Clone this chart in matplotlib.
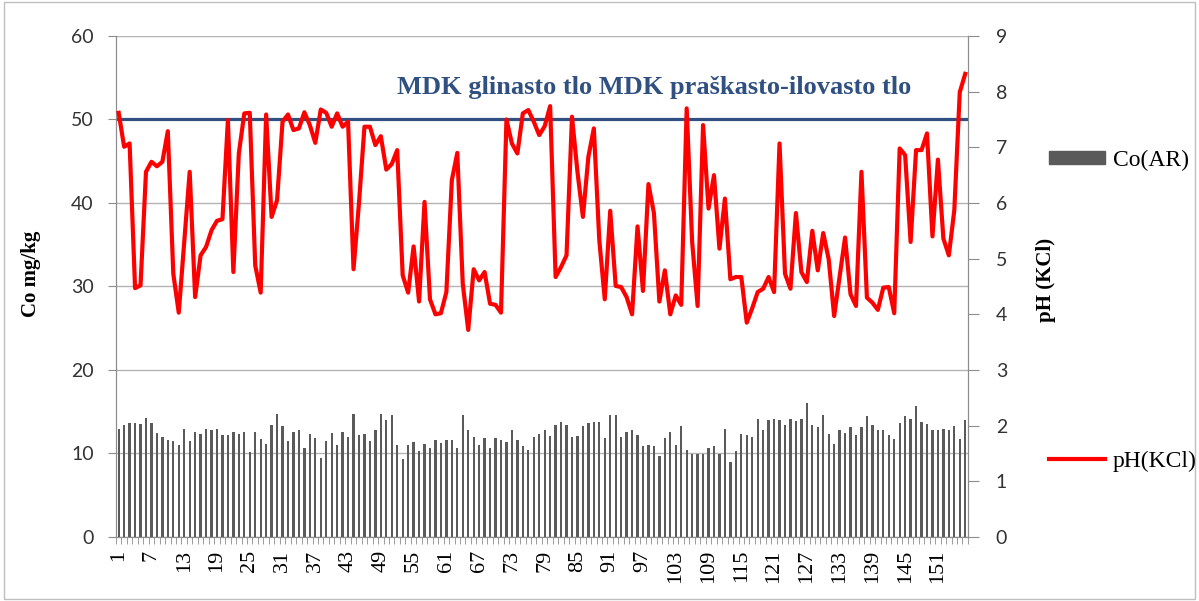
import matplotlib
matplotlib.use("Agg")
import matplotlib.pyplot as plt
from matplotlib.patches import Rectangle
from matplotlib.lines import Line2D

# Co (mg/kg) per sample, left axis
co = [12.98, 13.37, 13.65, 13.65, 13.49, 14.25, 13.65, 12.5, 11.98, 11.59,
      11.5, 10.99, 12.98, 11.5, 12.62, 12.38, 12.98, 12.78, 12.98, 12.26,
      12.26, 12.62, 12.38, 12.62, 10.12, 12.62, 11.75, 11.11, 13.41, 14.76,
      13.25, 11.5, 12.62, 12.78, 10.71, 12.38, 11.87, 9.44, 11.5, 12.5,
      10.99, 12.62, 11.98, 14.76, 12.26, 12.38, 11.5, 12.78, 14.76, 13.97,
      14.56, 10.99, 9.33, 10.99, 11.39, 10.28, 11.11, 10.6, 11.59, 11.27,
      11.59, 11.59, 10.6, 14.56, 12.86, 11.98, 10.99, 11.9, 10.6, 11.9,
      11.59, 11.35, 12.78, 11.59, 10.87, 10.36, 11.98, 12.38, 12.78, 12.14,
      13.41, 13.77, 13.41, 11.98, 12.14, 13.25, 13.65, 13.77, 13.77, 11.87,
      14.56, 14.56, 11.98, 12.62, 12.86, 12.26, 10.87, 10.99, 10.87, 9.68,
      11.87, 12.62, 10.99, 13.25, 10.36, 9.92, 9.92, 9.92, 10.71, 10.87,
      9.92, 12.98, 8.93, 10.24, 12.38, 12.26, 11.98, 14.17, 12.86, 14.05,
      14.17, 14.05, 13.37, 14.17, 13.89, 14.17, 16.03, 13.37, 13.17, 14.56,
      12.38, 11.11, 12.86, 12.5, 13.17, 12.26, 13.17, 14.44, 13.37, 12.86,
      12.78, 12.26, 11.75, 13.65, 14.44, 14.17, 15.71, 13.77, 13.53, 12.78,
      12.78, 12.98, 12.78, 13.25, 11.75, 14.05]

# pH (KCl) per sample, right axis
ph = [7.62, 7.01, 7.07, 4.47, 4.52, 6.56, 6.74, 6.66, 6.74, 7.29,
      4.73, 4.03, 5.30, 6.56, 4.31, 5.06, 5.21, 5.51, 5.68, 5.71,
      7.49, 4.76, 6.89, 7.61, 7.62, 4.88, 4.39, 7.59, 5.75, 6.05,
      7.46, 7.59, 7.31, 7.34, 7.63, 7.40, 7.08, 7.68, 7.62, 7.37,
      7.61, 7.37, 7.46, 4.81, 6.00, 7.37, 7.37, 7.04, 7.20, 6.60,
      6.70, 6.95, 4.70, 4.39, 5.22, 4.23, 6.02, 4.27, 4.00, 4.02,
      4.40, 6.41, 6.90, 4.55, 3.72, 4.81, 4.61, 4.76, 4.19, 4.17,
      4.03, 7.50, 7.07, 6.89, 7.61, 7.67, 7.46, 7.22, 7.38, 7.74,
      4.67, 4.85, 5.06, 7.55, 6.56, 5.75, 6.83, 7.34, 5.33, 4.27,
      5.86, 4.51, 4.49, 4.31, 4.00, 5.58, 4.42, 6.34, 5.82, 4.23,
      4.79, 4.00, 4.34, 4.17, 7.70, 5.30, 4.15, 7.40, 5.90, 6.50,
      5.18, 6.08, 4.63, 4.67, 4.67, 3.85, 4.11, 4.40, 4.46, 4.67,
      4.40, 7.07, 4.73, 4.46, 5.82, 4.76, 4.58, 5.50, 4.79, 5.46,
      4.99, 3.97, 4.67, 5.38, 4.36, 4.15, 6.56, 4.30, 4.21, 4.08,
      4.48, 4.49, 4.02, 6.98, 6.86, 5.30, 6.95, 6.95, 7.25, 5.40,
      6.78, 5.36, 5.06, 5.87, 7.99, 8.32]

mdk = 50
n = len(co)
uzorci = list(range(1, n + 1))
oznake = list(range(1, n + 1, 6))

serif = ["Liberation Serif", "DejaVu Serif"]
sans = ["Lato", "DejaVu Sans"]

fig = plt.figure(figsize=(11.99, 6.01), dpi=100)
fig.patches.append(Rectangle((0.003, 0.004), 0.994, 0.992, transform=fig.transFigure,
                             fill=False, edgecolor="#bfbfbf", linewidth=1))

ax = fig.add_axes([0.0967, 0.1065, 0.7106, 0.8336])
ax2 = ax.twinx()

ax.bar(uzorci, co, width=0.42, color="#5a5a5a", zorder=2)
ax.axhline(mdk, color="#2f5080", linewidth=2.3, zorder=3)
ax2.plot(uzorci, ph, color="#ff0000", linewidth=3, solid_joinstyle="round", zorder=4)

ax.set_xlim(0.5, n + 0.5)
ax.set_ylim(0, 60)
ax2.set_ylim(0, 9)
ax.set_yticks(range(0, 61, 10))
ax2.set_yticks(range(0, 10))

ax.yaxis.grid(True, color="#b3b3b3", linewidth=1)
ax.set_axisbelow(True)

for a in (ax, ax2):
    for s in a.spines.values():
        s.set_color("#8c8c8c")
    a.spines["top"].set_visible(False)

ax.set_xticks(oznake)
ax.set_xticklabels([str(v) for v in oznake], rotation=90, family=serif, fontsize=16)
ax.set_xticks([v + 0.5 for v in range(0, n + 1)], minor=True)
ax.tick_params(axis="x", which="major", length=0, pad=9)
ax.tick_params(axis="x", which="minor", length=5, color="#8c8c8c")
ax.tick_params(axis="y", length=6, color="#8c8c8c", pad=10)
ax2.tick_params(axis="y", length=8, color="#8c8c8c", pad=12)
for lbl in ax.get_yticklabels() + ax2.get_yticklabels():
    lbl.set_family(sans)
    lbl.set_fontsize(14)
    lbl.set_color("#333333")

ax.text(0.33, 0.898, "MDK glinasto tlo MDK praškasto-ilovasto tlo", transform=ax.transAxes,
        ha="left", va="center", family=serif, fontsize=19, fontweight="bold", color="#2f5080")

fig.text(0.026, 0.545, "Co mg/kg", rotation=90, ha="center", va="center",
         family=serif, fontsize=15, fontweight="bold")
fig.text(0.872, 0.535, "pH (KCl)", rotation=90, ha="center", va="center",
         family=serif, fontsize=15, fontweight="bold")

h1 = Rectangle((0, 0), 1, 1, color="#5a5a5a")
h2 = Line2D([0], [0], color="#ff0000", linewidth=3)
leg1 = fig.legend([h1], ["Co(AR)"], loc="center left", bbox_to_anchor=(0.857, 0.733),
                  frameon=False, prop={"family": serif, "size": 17},
                  handlelength=2.4, handleheight=0.5, handletextpad=0.3)
leg2 = fig.legend([h2], ["pH(KCl)"], loc="center left", bbox_to_anchor=(0.857, 0.232),
                  frameon=False, prop={"family": serif, "size": 17},
                  handlelength=2.4, handletextpad=0.3)

fig.savefig("out.png", dpi=100)
